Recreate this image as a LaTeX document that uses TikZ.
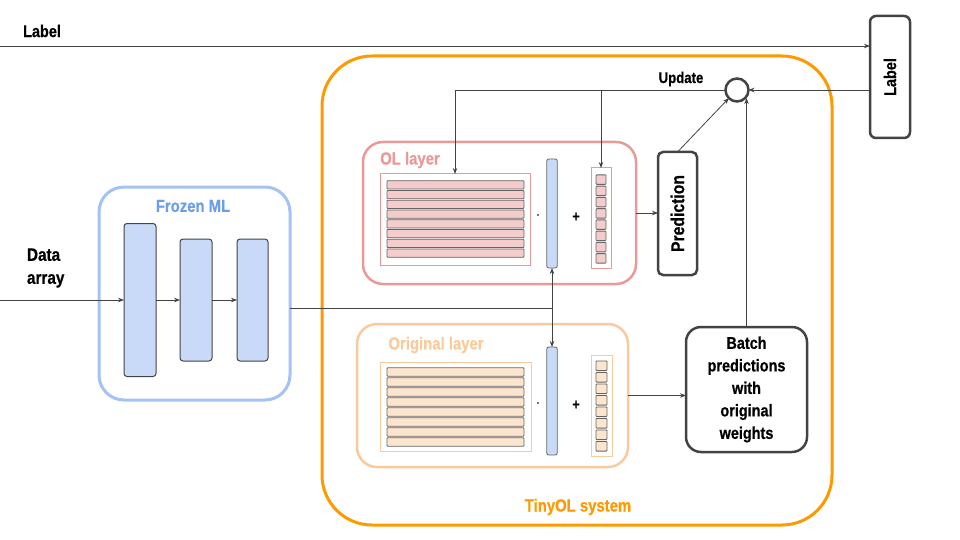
\documentclass[tikz,border=0pt]{standalone}
\usepackage{fontspec}
\setmainfont{Liberation Sans}[FakeStretch=0.85, BoldFeatures={FakeBold=0.6}]
\usetikzlibrary{arrows.meta}
\definecolor{dk}{HTML}{434343}
\definecolor{gr}{HTML}{666666}
\definecolor{orng}{HTML}{FF9900}
\definecolor{olred}{HTML}{EA9999}
\definecolor{olfill}{HTML}{F4CCCC}
\definecolor{orfill}{HTML}{FCE5CD}
\definecolor{orline}{HTML}{F9CB9C}
\definecolor{bluef}{HTML}{C9DAF8}
\definecolor{bluel}{HTML}{A4C2F4}
\definecolor{bluet}{HTML}{6D9EEB}
\begin{document}
\begin{tikzpicture}[x=1pt,y=-1pt,
  every node/.style={inner sep=0pt, outer sep=0pt},
  txt/.style={font=\bfseries\fontsize{17.5}{21}\selectfont},
  arr/.style={-{Stealth[length=6pt,width=4.5pt]}, draw=dk, line width=0.8pt},
  ln/.style={draw=dk, line width=0.8pt},
  blk/.style={rectangle, draw=dk, line width=1pt, fill=bluef, rounded corners=3pt},
  darkbox/.style={rectangle, draw=dk, line width=2.5pt},
  rowcell/.style={rectangle, draw=gr, line width=0.9pt, rounded corners=0.8pt, minimum width=137pt},
  sqcell/.style={rectangle, draw=gr, line width=0.8pt, rounded corners=0.8pt, minimum width=10pt},
  vec/.style={rectangle, draw=gr, line width=0.8pt, fill=bluef, rounded corners=2pt, minimum width=10.5pt},
  dotnode/.style={circle, fill=dk, minimum size=2.2pt},
]
\useasboundingbox (0,0) rectangle (960,540);

% Top label
\node[font=\bfseries\fontsize{17}{20}\selectfont] (toplabel) at (42,31) {Label};
\coordinate (lin) at (0,46);

% Right label box
\node[darkbox, rounded corners=6pt, minimum width=40pt, minimum height=122pt] (lab) at (890,77) {};
\node[rotate=90, font=\bfseries\fontsize{17}{20}\selectfont] (labt) at (lab) {Label};

% Comparison circle
\node[circle, draw=dk, line width=2.5pt, minimum size=23pt] (circ) at (737,90) {};
\node[font=\bfseries\fontsize{15.5}{19}\selectfont] (upd) at (681,79) {Update};

% TinyOL system
\node[rectangle, draw=orng, line width=3pt, rounded corners=50pt, minimum width=510pt, minimum height=469pt] (sys) at (577,290.5) {};
\node[txt, text=orng] (syst) at (578,507) {TinyOL system};

% Frozen ML
\node[rectangle, draw=bluel, line width=3pt, rounded corners=25pt, minimum width=191pt, minimum height=213pt] (fz) at (194.5,293.5) {};
\node[txt, text=bluet] (fzt) at (193,206) {Frozen ML};
\node[blk, minimum width=32pt, minimum height=153pt] (fb1) at (140,300) {};
\node[blk, minimum width=32pt, minimum height=122pt] (fb2) at (196,300) {};
\node[blk, minimum width=31pt, minimum height=122pt] (fb3) at (252.5,300) {};
\node[align=left, anchor=west, font=\bfseries\fontsize{18}{23}\selectfont] (data) at (27,268) {Data\\array};
\coordinate (din) at (0,300);

% OL layer
\node[rectangle, draw=olred, line width=2.5pt, rounded corners=20pt, minimum width=273pt, minimum height=142pt] (ol) at (499.5,213) {};
\node[txt, text=olred] (olt) at (410,160) {OL layer};
\node[rectangle, draw=olred, line width=1pt, minimum width=150pt, minimum height=91pt] (olmat) at (455,219.5) {};
\foreach \i in {1,...,8} {
  \node[rowcell, fill=olfill, minimum height=8.3pt] (olrow\i) at (455.5,{180+9.75*(\i-0.5)}) {};
}
\node[dotnode] (oldot) at (538,215) {};
\node[vec, minimum height=109pt] (olvec) at (552,213.5) {};
\node[font=\bfseries\fontsize{15}{18}\selectfont] (olplus) at (576,217) {+};
\node[rectangle, draw=olred, line width=1pt, minimum width=20pt, minimum height=100pt] (olbias) at (601,218) {};
\foreach \i in {1,...,8} {
  \node[sqcell, fill=olfill, minimum height=9.5pt] (olsq\i) at (601,{174+11.25*(\i-0.5)}) {};
}

% Prediction
\node[darkbox, rounded corners=5pt, minimum width=39pt, minimum height=123pt] (pred) at (677.5,213.5) {};
\node[rotate=90, font=\bfseries\fontsize{18.5}{22}\selectfont] (predt) at (pred) {Prediction};

% Original layer
\node[rectangle, draw=orline, line width=2.5pt, rounded corners=20pt, minimum width=271pt, minimum height=143pt] (or) at (492.5,395.5) {};
\node[txt, text=orline] (ort) at (436,345) {Original layer};
\node[rectangle, draw=orline, line width=1pt, minimum width=151pt, minimum height=89pt] (ormat) at (455.5,406.5) {};
\foreach \i in {1,...,8} {
  \node[rowcell, fill=orfill, minimum height=8.5pt] (orrow\i) at (455.5,{367+10*(\i-0.5)}) {};
}
\node[dotnode] (ordot) at (538,403) {};
\node[vec, minimum height=108pt] (orvec) at (552,401) {};
\node[font=\bfseries\fontsize{15}{18}\selectfont] (orplus) at (576,405) {+};
\node[rectangle, draw=orline, line width=1pt, minimum width=21pt, minimum height=101pt] (orbias) at (601.5,405.5) {};
\foreach \i in {1,...,8} {
  \node[sqcell, fill=orfill, minimum height=9.7pt, minimum width=11pt] (orsq\i) at (601.5,{360+11.5*(\i-0.5)}) {};
}

% Batch predictions
\node[darkbox, rounded corners=15pt, minimum width=121pt, minimum height=125pt] (batch) at (746.5,389.5) {};
\node[align=center, font=\bfseries\fontsize{17}{22.5}\selectfont] (batcht) at (batch) {Batch\\predictions\\with\\original\\weights};

% Connectors
\draw[arr] (lin) -- (lin -| lab.west);
\draw[arr] ([yshift=-13pt]lab.west) -- (circ.east);
\draw[arr] (circ.west) -| (olmat.north);
\coordinate (br) at (601,90);
\draw[arr] (br) -- (olbias.north);
\draw[arr] (ol.east) -- (ol.east -| pred.west);
\draw[arr] (pred.north) -- (circ.south west);
\draw[arr] (batch.north) -- (batch.north |- circ.south east);
\draw[arr] (or.east) -- (or.east -| batch.west);
\draw[arr] (din) -- (fb1.west);
\draw[arr] (fb1.east) -- (fb2.west);
\draw[arr] (fb2.east) -- (fb3.west);
\coordinate (fj) at (552,308);
\draw[ln] (fz.east |- fj) -- (fj);
\draw[arr] (fj) -- (olvec.south);
\draw[arr] (fj) -- (orvec.north);
\end{tikzpicture}
\end{document}
